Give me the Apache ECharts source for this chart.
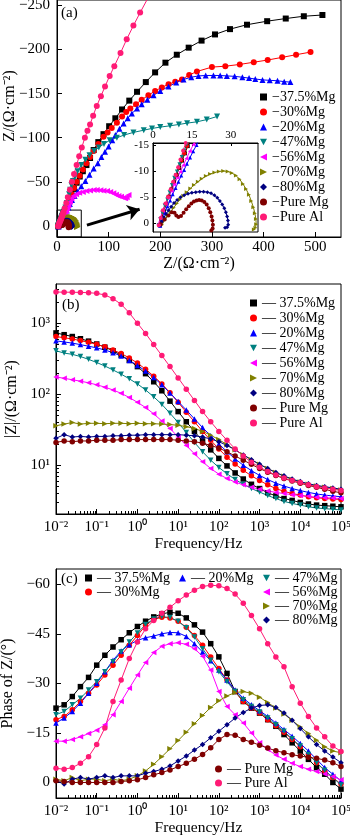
<!DOCTYPE html>
<html>
<head>
<meta charset="utf-8">
<script src="https://cdn.jsdelivr.net/npm/echarts@6/dist/echarts.min.js"></script>
<style>
  html, body { margin: 0; padding: 0; background: #fff; }
  #chart { width: 350px; height: 838px; }
</style>
</head>
<body>
<div id="chart"></div>
<script>
// --- Series names, colours, symbols ---
const names = ["37.5%Mg", "30%Mg", "20%Mg", "47%Mg", "56%Mg", "70%Mg", "80%Mg", "Pure Mg", "Pure Al"];
const colors = ["#000000", "#ff0000", "#0000ff", "#008080", "#ff00ff", "#808000", "#000080", "#800000", "#ff1a75"];
const symbols = ["rect", "circle", "triangle", "path://M0,0L10,0L5,9Z", "path://M10,0L10,10L0,5Z",
    "path://M0,0L0,10L10,5Z", "diamond", "circle", "circle"];

// --- (a) Nyquist: [Z', Z''] ---
const nyq375 = [[2.6,0.4],[3.3,-0.9],[4.2,-2.3],[5.1,-3.7],[6.1,-5.1],[7.1,-6.5],[8.1,-7.9],[9.1,-9.3],[10.1,-10.7],[11.2,-12.1],[12.3,-13.5],[13.4,-14.9],[14.6,-16.4],[17,-19.5],[20,-23.5],[24,-29],[28,-35],[33,-42],[38,-49],[44,-56],[50,-62],[57,-69],[64,-77],[71,-86],[80,-95],[90,-104],[101,-113],[113,-122],[126,-132],[140,-142],[155,-152],[172,-163],[190,-174],[210,-185],[232,-194],[255,-202],[280,-210],[306,-217],[335,-223],[368,-228],[407,-232],[443,-235],[478,-237.6],[514,-239]];
const nyq30 = [[2.4,0.4],[3.1,-0.9],[4,-2.3],[4.9,-3.7],[5.9,-5.1],[6.9,-6.5],[7.9,-7.9],[8.9,-9.3],[9.9,-10.7],[11,-12.1],[12.1,-13.5],[13.2,-14.9],[14.4,-16.4],[17,-20],[20,-24.5],[24,-30],[28,-36],[33,-43],[38,-50],[44,-57],[50,-64],[57,-71],[64,-78],[71,-85],[80,-93],[90,-101],[98,-106],[106,-111],[116,-117],[126,-124],[134,-129],[142,-133],[153,-138],[164,-143],[177,-148],[190,-153],[203,-157],[216,-160.5],[229,-163.5],[242,-166],[256,-171],[271,-175],[300,-180],[326,-181],[354,-183],[381,-185.5],[408,-188],[436,-191],[463,-194],[491,-197]];
const nyq20 = [[2.8,0.5],[3.6,-0.8],[4.6,-2],[5.6,-3.3],[6.6,-4.4],[7.6,-5.6],[8.7,-6.8],[9.8,-8],[10.9,-9.2],[12,-10.3],[13.1,-11.5],[14.3,-12.7],[15.5,-13.9],[16.8,-15.1],[19,-17.5],[22,-21],[25,-25],[29,-29.5],[34,-34],[40,-39],[47,-45],[55,-51],[63,-58],[71,-65],[79,-71],[86,-78],[93,-84],[100,-90],[107,-97],[113,-103],[121,-110],[129,-116],[137,-122],[145,-127.5],[155,-133],[164,-138],[175,-143],[187,-148],[200,-153],[216,-158],[231,-162.5],[245,-166],[260,-168.5],[274,-170],[288,-170.5],[303,-170.5],[316,-170.5],[329,-170],[344,-169.5],[359,-168.5],[372,-167.5],[384,-166.5],[398,-165.5],[412,-165],[427,-164.5],[440,-163.5],[452,-163]];
const nyq47 = [[2.2,0.4],[2.8,-0.8],[3.6,-2],[4.5,-3.4],[5.5,-4.6],[6.4,-6],[7.3,-7.4],[8.2,-8.8],[9.2,-10],[10.2,-11.4],[11.1,-12.8],[12,-14],[13,-15.2],[14.5,-17.5],[16.5,-21],[19,-26],[21.5,-31],[23.5,-36],[25.5,-41],[28,-46],[31,-51],[35,-56],[40,-62],[47,-69],[55,-75],[63,-80],[72,-85],[81,-89],[91,-93],[102,-97],[116,-100],[130,-103],[148,-106],[168,-108.5],[184,-110.5],[200,-112],[219,-113.5],[236,-115],[252,-116.5],[271,-118],[290,-120.5],[310,-124]];
const nyq56 = [[2,0.3],[2.8,-1],[3.8,-2.4],[4.9,-3.7],[6,-4.9],[7.1,-6.2],[8.2,-7.5],[9.4,-8.8],[10.5,-9.9],[11.7,-11.2],[12.9,-12.5],[14.2,-13.9],[15.6,-15.2],[17.5,-17.5],[19.5,-20],[22,-23.5],[25,-27.5],[28,-31],[32,-34],[37,-36],[43,-37.5],[50,-38.5],[57,-39.5],[64,-40.3],[71,-40.7],[77,-40.7],[84,-40.5],[90,-40],[97,-39.5],[103,-38.5],[109,-37],[114,-35.5],[119,-34],[124,-33],[129,-32],[132,-31.4],[135,-32.5],[138.5,-35]];
const nyq70 = [[3.5,0.3],[4.5,-0.6],[5.7,-1.4],[6.8,-2.2],[8,-3],[9.2,-3.8],[10.4,-4.6],[11.7,-5.3],[13,-6],[14.4,-6.7],[15.8,-7.4],[17.3,-8],[18.8,-8.6],[20.4,-9.1],[22,-9.5],[23.7,-9.8],[25.4,-10],[27.1,-10.1],[28.8,-10],[30.4,-9.7],[32,-9.2],[33.4,-8.5],[34.7,-7.6],[35.9,-6.6],[37,-5.5],[37.9,-4.3],[38.7,-3.1],[39.3,-1.9],[39.7,-0.8],[39.8,0.2],[39.5,0.9],[38.9,1.2]];
const nyq80 = [[2.8,0.4],[3.4,-0.3],[4.2,-1.1],[5.1,-1.8],[6,-2.5],[7,-3.2],[8.1,-3.9],[9.3,-4.5],[10.6,-5],[12,-5.4],[13.5,-5.7],[15,-5.9],[16.5,-6],[18,-6.1],[19.5,-6.1],[21,-6],[22.4,-5.8],[23.7,-5.4],[24.8,-4.9],[25.8,-4.3],[26.7,-3.6],[27.5,-2.9],[28.1,-2.1],[28.6,-1.3],[28.9,-0.5],[29,0.3],[28.6,0.8],[27.8,0.9]];
const nyqMg = [[3,0.2],[4.5,-0.7],[6,-1.5],[7.3,-2.1],[8.3,-2],[9,-1.5],[9.8,-1.2],[10.8,-1.4],[11.8,-2],[12.8,-2.7],[13.8,-3.3],[14.8,-3.8],[15.8,-4.2],[16.8,-4.4],[17.8,-4.5],[18.8,-4.4],[19.8,-4.1],[20.7,-3.6],[21.5,-2.9],[22.1,-2.1],[22.6,-1.3],[22.9,-0.5],[23.1,0.3],[23,1],[22.5,1.4]];
const nyqAl = [[2.3,0.4],[3,-1],[3.8,-2.5],[4.8,-3.8],[5.8,-5],[6.8,-6.5],[7.8,-8],[8.7,-9.3],[9.7,-10.8],[10.6,-12.3],[11.6,-14],[12.6,-15.5],[15,-20],[18,-26],[21,-32.5],[25,-41],[29,-50],[33,-59],[38,-69],[43,-79],[48,-89],[54,-100],[59,-108],[64,-115],[70,-125],[77,-136],[85,-147],[93,-158],[102,-170],[111,-181],[123,-196],[135,-211.5],[148,-227],[161,-241.7],[175,-257]];

// --- (b)/(c) Bode: frequencies (Hz) ---
const freq = [0.01,0.01585,0.02512,0.03981,0.0631,0.1,0.1585,0.2512,0.3981,0.631,1,1.585,2.512,3.981,6.31,10,15.85,25.12,39.81,63.1,100,158.5,251.2,398.1,631,1000,1585,2512,3981,6310,10000,15850,25120,39810,63100,100000];

// |Z| (Ω·cm²)
const zmod375 = [730,690,650,605,560,510,460,410,355,300,245,195,150,112,80,57,41,30,22,16.5,12.5,9.8,7.8,6.4,5.4,4.7,4.1,3.7,3.4,3.2,3.0,2.85,2.75,2.7,2.65,2.6];
const zmod30 = [650,625,600,570,540,505,465,420,375,325,275,225,180,140,105,77,56,41,30,22.5,17,13,10.4,8.5,7.1,6.1,5.3,4.7,4.3,4.0,3.8,3.6,3.5,3.4,3.35,3.3];
const zmod20 = [565,545,525,500,475,450,420,385,345,300,255,212,172,136,104,79,60,45,34,26,20,15.5,12.3,10,8.4,7.2,6.3,5.6,5.1,4.7,4.4,4.15,3.95,3.8,3.7,3.6];
const zmod47 = [410,380,365,340,310,280,250,220,192,165,140,115,92,72,54,40,29,21,15.5,11.8,9.3,7.6,6.3,5.4,4.7,4.2,3.75,3.4,3.1,2.9,2.75,2.6,2.5,2.45,2.4,2.35];
const zmod56 = [175,168,160,153,145,136,126,115,103,90,77,65,53,42,33,25,19,14.5,11.2,9,7.5,6.5,5.8,5.3,4.9,4.6,4.35,4.15,4.0,3.85,3.75,3.65,3.55,3.5,3.45,3.4];
const zmod70 = [36,38,40,38,39,39,38.5,39,39,38.5,39,38.5,38.5,38,37.5,36.5,35,33,30,26.5,23,19.5,16.5,14,12,10.3,9,7.9,7,6.3,5.8,5.4,5.1,4.9,4.7,4.5];
const zmod80 = [24,27,25,25.5,25,25.5,25.5,26,26,26.5,26.5,27,27,27,27,27,26.5,26,25,23.5,21.5,19,16.5,14,12,10.3,9,7.9,7.1,6.4,5.9,5.5,5.2,5.0,4.8,4.6];
const zmodMg = [21,22,21.5,22,22,22.5,22.5,22.5,23,23,23,23,23,23,23,22.5,22,21.5,20.5,19,17.5,15.5,13.5,11.8,10.3,9,8,7.2,6.5,6,5.6,5.2,4.9,4.6,4.3,4.1];
const zmodAl = [2750,2740,2730,2720,2690,2640,2500,2220,1850,1400,1000,720,500,350,245,170,118,82,57,41,30,22.5,17,13.5,11,9.4,8.2,7.3,6.6,6.1,5.7,5.3,5.0,4.8,4.6,4.4];

// phase (°)
const ph375 = [-22.5,-23.5,-26,-29,-31.8,-35.5,-38.5,-41,-43.2,-45.3,-47.2,-48.8,-50.1,-51,-51.5,-51.2,-49.8,-47.7,-45.5,-42,-38,-33,-27.5,-24.5,-22.5,-21,-19,-17,-14.5,-12,-9.5,-7,-4.5,-2.5,0,2];
const ph30 = [-19,-20,-22,-24.5,-27,-29.5,-32.5,-35.5,-38.5,-41.5,-44.5,-47.5,-49.3,-50,-49.8,-48.8,-47,-44.5,-41.5,-38,-34.5,-31,-27.5,-24.5,-22.5,-21,-19,-17.2,-15.2,-13,-10.8,-8.5,-6,-3.5,-1.5,0.5];
const ph20 = [-18,-19.5,-21.5,-24,-27,-30,-33.5,-37,-39.8,-41.7,-43,-43.8,-44.3,-45,-45.4,-45.3,-44.2,-42,-39.5,-36.8,-34,-31,-28,-25.5,-23.5,-21.7,-20,-18,-16,-14,-11.8,-9.5,-7,-4.5,-2.5,-0.5];
const ph47 = [-20.5,-21.5,-23.5,-25.5,-28,-30.5,-33.5,-36.5,-39.5,-42.5,-45.2,-47.8,-49.5,-50.2,-49.9,-48.8,-46.8,-44,-40.5,-37,-33.5,-30.5,-27.5,-25,-23,-21.3,-19.5,-17.5,-15.5,-13.2,-11,-8.5,-6,-3.7,-1.5,0.8];
const ph56 = [-12.5,-12.5,-13,-13.8,-14.8,-15.8,-17.5,-20.5,-24.5,-28.5,-32.5,-36.3,-39.3,-41.2,-42,-42.3,-41.8,-40.5,-38.2,-34,-27.5,-23,-20.5,-18,-15,-12,-10,-8.3,-7,-5.8,-4.8,-4,-3.3,-2.6,-1.8,-0.8];
const ph70 = [-1,-0.5,-1.5,-0.5,-1,-1,-0.5,-1,-0.5,-1,-2,-3.5,-5.5,-7.8,-10.2,-12.7,-15.2,-17.8,-20.3,-22.7,-24.7,-26.2,-27.2,-27.5,-27,-25.8,-24.2,-22.5,-20.7,-18.8,-16.8,-14.8,-12.8,-10.8,-9.5,-9];
const ph80 = [-0.5,0.5,-1,-1.5,-1,-1.5,-2,-1.5,-2,-2,-2,-2.8,-3.3,-4,-5,-6.5,-8,-9.8,-11.5,-13.5,-15.5,-17.5,-19.5,-21.2,-22.5,-23.3,-23.5,-22.7,-21,-18.8,-16.3,-13.8,-11.5,-9.5,-7.7,-6];
const phMg = [-0.5,-0.3,0,0,0,0,0,0,-0.3,-0.5,-0.8,-1.5,-2.3,-3,-3.8,-4.8,-5.8,-7,-8.5,-10.5,-13,-14.5,-14.3,-13,-12.2,-11.3,-10.4,-9.6,-9,-8.4,-8,-7.6,-7.3,-6.8,-6,-4.8];
const phAl = [-4.3,-4,-4.5,-5.8,-7.8,-11.5,-16.5,-24.5,-31,-37.5,-42.5,-46.5,-49,-51.2,-53,-55,-56.7,-58.2,-59.3,-59.7,-59.5,-58.7,-57,-54.2,-50.5,-46.5,-42,-38,-35,-29,-24,-20,-16.5,-13.8,-11,-9.4];

// --- tick labels ---
const nyqXTicks = [0, 100, 200, 300, 400, 500];
const nyqYTicks = [-250, -200, -150, -100, -50, 0];
const insetXTicks = [0, 15, 30];
const insetYTicks = [-15, -10, -5, 0];
const phaseTicks = [-60, -45, -30, -15, 0];

// zoom box and arrow in (a), in data units
const insetBox = [[0, -18], [47, 12.5]];
const insetArrow = [[58, -1], [160, -19]];

const nyqAll = [nyq375, nyq30, nyq20, nyq47, nyq56, nyq70, nyq80, nyqMg, nyqAl];
const zmodAll = [zmod375, zmod30, zmod20, zmod47, zmod56, zmod70, zmod80, zmodMg, zmodAl];
const phAll = [ph375, ph30, ph20, ph47, ph56, ph70, ph80, phMg, phAl];

const FONT = "Liberation Serif";
const SUP = { "-": "\u207B", "0": "\u2070", "1": "\u00B9", "2": "\u00B2", "3": "\u00B3", "4": "\u2074", "5": "\u2075" };
const minus = (v) => (v < 0 ? "\u2212" + (-v) : String(v));
const pow10 = (v) => "10" + String(Math.round(Math.log10(v))).split("").map((c) => SUP[c]).join("");

// minor ticks of the log axes, in log10 units
function minorTicks(from, to) {
    const out = [];
    for (let d = from; d < to; d++) {
        for (let m = 2; m <= 9; m++) out.push(d + Math.log10(m));
    }
    return out;
}

const blackLine = { onZero: false, lineStyle: { color: "#000", width: 1 } };
const noLine = { show: false, onZero: false };
const label = (size, extra) => Object.assign({ color: "#000", fontFamily: FONT, fontSize: size }, extra);

function lineSeries(i, data, xi, yi, size, z) {
    return {
        name: names[i],
        type: "line",
        xAxisIndex: xi,
        yAxisIndex: yi,
        data: data,
        symbol: symbols[i],
        symbolSize: size,
        showAllSymbol: true,
        lineStyle: { color: colors[i], width: 1 },
        itemStyle: { color: colors[i] },
        z: z,
        clip: true,
        silent: true
    };
}

const series = [];
// (a) main
nyqAll.forEach((d, i) => series.push(lineSeries(i, d, 0, 0, 6, 2)));
series[0].markArea = {
    silent: true,
    itemStyle: { color: "rgba(0,0,0,0)", borderColor: "#000", borderWidth: 1 },
    data: [[{ coord: insetBox[0] }, { coord: insetBox[1] }]]
};
series[0].markLine = {
    silent: true,
    symbol: ["none", "arrow"],
    symbolSize: 12,
    label: { show: false },
    lineStyle: { color: "#000", width: 3, type: "solid" },
    data: [[{ coord: insetArrow[0] }, { coord: insetArrow[1] }]]
};
// (a) inset
nyqAll.forEach((d, i) => series.push(lineSeries(i, d, 1, 1, 4, 12)));
// (b) |Z|
zmodAll.forEach((d, i) => series.push(lineSeries(i, freq.map((f, k) => [f, d[k]]), 2, 2, 5.5, 2)));
// (c) phase
phAll.forEach((d, i) => series.push(lineSeries(i, freq.map((f, k) => [f, d[k]]), 4, 4, 5.5, 2)));

function legendItems(list) {
    return list.map((n) => ({ name: n, icon: symbols[names.indexOf(n)] }));
}
function legend(list, left, top, gap, prefix) {
    return {
        data: legendItems(list),
        orient: "vertical",
        left: left,
        top: top,
        padding: 0,
        itemGap: gap,
        itemWidth: 7,
        itemHeight: 7,
        selectedMode: false,
        formatter: (n) => prefix + n,
        textStyle: { color: "#000", fontFamily: FONT, fontSize: 14 }
    };
}

const gridBase = { show: true, borderColor: "#000", borderWidth: 1, containLabel: false, outerBoundsMode: "none" };
const logLabel = label(15, { formatter: pow10, margin: 6, showMinLabel: false, showMaxLabel: false });
const panelTitle = (t, left, top) => ({ text: t, left: left, top: top, padding: 0,
    textStyle: { fontFamily: FONT, fontSize: 15, fontWeight: "normal", color: "#000" } });

const option = {
    animation: false,
    backgroundColor: "#fff",
    title: [panelTitle("(a)", 61, 6), panelTitle("(b)", 62, 298), panelTitle("(c)", 61, 572)],
    // y name of (a), placed by hand
    graphic: [{
        type: "text", x: 10, y: 106, rotation: Math.PI / 2, silent: true,
        style: { text: "Z/(\u03A9\u00B7cm\u207B\u00B2)", fill: "#000", font: '16px "Liberation Serif"', align: "center", verticalAlign: "middle" }
    }],
    legend: [
        legend(names, 260, 90, 1, "\u2212"),
        legend(names, 250, 296, 1, "\u2014 "),
        legend(["37.5%Mg", "30%Mg"], 85, 571, 0, "\u2014 "),
        legend(["20%Mg"], 179, 571, 0, "\u2014 "),
        legend(["47%Mg", "56%Mg", "70%Mg", "80%Mg"], 263, 571, 0, "\u2014 "),
        legend(["Pure Mg", "Pure Al"], 215, 762, 0, "\u2014 ")
    ],
    grid: [
        Object.assign({ left: 57, top: 0, width: 284, height: 237 }, gridBase),
        Object.assign({ left: 153, top: 143, width: 105, height: 89 }, gridBase, { backgroundColor: "#fff", z: 5 }),
        Object.assign({ left: 56, top: 284, width: 285, height: 230 }, gridBase),
        Object.assign({ left: 56, top: 569, width: 285, height: 229 }, gridBase)
    ],
    xAxis: [
        {
            gridIndex: 0, type: "value", min: 0, max: 550, position: "bottom",
            name: "Z/(\u03A9\u00B7cm\u207B\u00B2)", nameLocation: "middle", nameGap: 18,
            nameTextStyle: label(16),
            axisLine: blackLine,
            axisTick: { inside: true, length: 5, lineStyle: { color: "#000" }, customValues: nyqXTicks },
            axisLabel: label(15, { margin: 3, customValues: nyqXTicks }),
            splitLine: { show: false }
        },
        {
            gridIndex: 1, type: "value", min: 0, max: 40.5, position: "top", z: 6,
            axisLine: blackLine,
            axisTick: { inside: true, length: 3, lineStyle: { color: "#000" }, customValues: insetXTicks },
            axisLabel: label(11, { margin: 2, customValues: insetXTicks }),
            splitLine: { show: false }
        },
        {
            gridIndex: 2, type: "log", logBase: 10, min: 0.01, max: 100000, position: "bottom",
            name: "Frequency/Hz", nameLocation: "middle", nameGap: 21,
            nameTextStyle: label(15.5),
            axisLine: blackLine,
            axisTick: { inside: true, length: 5, lineStyle: { color: "#000" } },
            axisLabel: label(15, { formatter: pow10, margin: 6 }),
            splitLine: { show: false }
        },
        {
            gridIndex: 2, type: "value", min: -2, max: 5, position: "bottom",
            axisLine: noLine, axisLabel: { show: false }, splitLine: { show: false },
            axisTick: { inside: true, length: 3, lineStyle: { color: "#000" }, customValues: minorTicks(-2, 5) }
        },
        {
            gridIndex: 3, type: "log", logBase: 10, min: 0.01, max: 100000, position: "bottom",
            name: "Frequency/Hz", nameLocation: "middle", nameGap: 21,
            nameTextStyle: label(15.5),
            axisLine: blackLine,
            axisTick: { inside: true, length: 5, lineStyle: { color: "#000" } },
            axisLabel: label(15, { formatter: pow10, margin: 6 }),
            splitLine: { show: false }
        },
        {
            gridIndex: 3, type: "value", min: -2, max: 5, position: "bottom",
            axisLine: noLine, axisLabel: { show: false }, splitLine: { show: false },
            axisTick: { inside: true, length: 3, lineStyle: { color: "#000" }, customValues: minorTicks(-2, 5) }
        }
    ],
    yAxis: [
        {
            gridIndex: 0, type: "value", inverse: true, min: -256, max: 12.5, position: "left",
            axisLine: blackLine,
            axisTick: { inside: true, length: 5, lineStyle: { color: "#000" }, customValues: nyqYTicks },
            axisLabel: label(15, { margin: 7, formatter: minus, customValues: nyqYTicks }),
            splitLine: { show: false }
        },
        {
            gridIndex: 1, type: "value", inverse: true, min: -15.5, max: 1.7, position: "left", z: 6,
            axisLine: blackLine,
            axisTick: { inside: true, length: 3, lineStyle: { color: "#000" }, customValues: insetYTicks },
            axisLabel: label(11, { margin: 4, customValues: insetYTicks }),
            splitLine: { show: false }
        },
        {
            gridIndex: 2, type: "log", logBase: 10, min: 2.06, max: 3570, position: "left",
            name: "|Z|/(\u03A9\u00B7cm\u207B\u00B2)", nameLocation: "middle", nameGap: 35, nameRotate: 90,
            nameTextStyle: label(16),
            axisLine: blackLine,
            axisTick: { inside: true, length: 5, lineStyle: { color: "#000" } },
            axisLabel: logLabel,
            splitLine: { show: false }
        },
        {
            gridIndex: 2, type: "value", min: Math.log10(2.06), max: Math.log10(3570), position: "left",
            axisLine: noLine, axisLabel: { show: false }, splitLine: { show: false },
            axisTick: { inside: true, length: 3, lineStyle: { color: "#000" }, customValues: minorTicks(0, 4).filter((v) => v > Math.log10(2.06) && v < Math.log10(3570)) }
        },
        {
            gridIndex: 3, type: "value", inverse: true, min: -64.6, max: 4.7, position: "left",
            name: "Phase of Z/(\u00B0)", nameLocation: "middle", nameGap: 33, nameRotate: 90,
            nameTextStyle: label(16),
            axisLine: blackLine,
            axisTick: { inside: true, length: 5, lineStyle: { color: "#000" }, customValues: phaseTicks },
            axisLabel: label(15, { margin: 6, formatter: minus, customValues: phaseTicks }),
            splitLine: { show: false }
        }
    ],
    series: series
};

const chart = echarts.init(document.getElementById("chart"));
chart.setOption(option);
</script>
</body>
</html>
